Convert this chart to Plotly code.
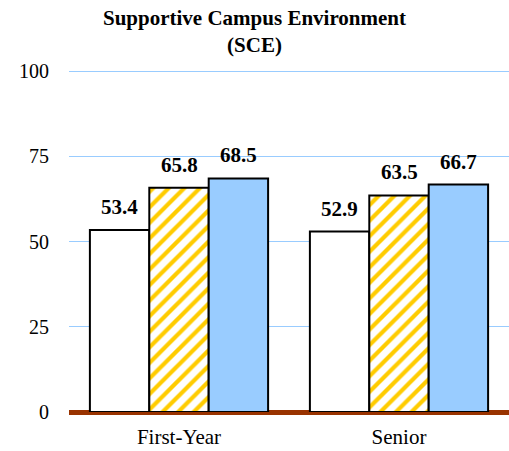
import plotly.graph_objects as go

categories = ["First-Year", "Senior"]
series_names = ["Institution", "Comparison A", "Comparison B"]
values_a = [53.4, 52.9]
values_b = [65.8, 63.5]
values_c = [68.5, 66.7]
y_ticks = [0, 25, 50, 75, 100]
title_text = "<b>Supportive Campus Environment<br>(SCE)</b>"

FONT = "Liberation Serif, Times New Roman, serif"

fig = go.Figure()
fig.add_bar(x=categories, y=values_a, name=series_names[0],
            marker=dict(color="white", line=dict(color="black", width=2)))
fig.add_bar(x=categories, y=values_b, name=series_names[1],
            marker=dict(color="white",
                        pattern=dict(shape="/", fgcolor="#FFCC00", bgcolor="white",
                                     size=11, solidity=0.38, fillmode="replace"),
                        line=dict(color="black", width=2)))
fig.add_bar(x=categories, y=values_c, name=series_names[2],
            marker=dict(color="#99CCFF", line=dict(color="black", width=2)))

# value labels above bars
offsets = [-1, 0, 1]
for off, vals in zip(offsets, [values_a, values_b, values_c]):
    for i, v in enumerate(vals):
        fig.add_annotation(x=i + off * 0.27, y=v, xref="x", yref="y",
                           text=f"<b>{v:.1f}</b>", showarrow=False,
                           yanchor="bottom", yshift=9,
                           font=dict(family=FONT, size=21, color="black"))

# title as annotation for precise placement
fig.add_annotation(text=title_text, xref="paper", yref="paper",
                   x=(254 - 69) / 440, y=1 + (70 - 31) / 342,
                   xanchor="center", yanchor="middle", showarrow=False,
                   font=dict(family=FONT, size=21, color="black"))

fig.update_layout(
    width=509, height=451,
    margin=dict(l=69, r=0, t=70, b=39),
    paper_bgcolor="white", plot_bgcolor="white",
    barmode="group", bargap=0.19, bargroupgap=0,
    showlegend=False,
    font=dict(family=FONT, size=20, color="black"),
)
fig.update_xaxes(type="category", range=[-0.5, 1.5], showline=False, showgrid=False,
                 ticks="", ticklabelstandoff=10, tickfont=dict(family=FONT, size=21))
fig.update_yaxes(range=[0, 100.3], tickvals=y_ticks, showgrid=True,
                 gridcolor="#99CCFF", gridwidth=1, zeroline=True,
                 zerolinecolor="#993300", zerolinewidth=5,
                 ticks="", ticklabelstandoff=19,
                 tickfont=dict(family=FONT, size=20))

fig.write_html(
    "out.html", config={"displayModeBar": False},
    post_script=("document.body.style.margin='0';"
                 "document.body.style.overflow='hidden';"
                 "document.documentElement.style.overflow='hidden';"))
